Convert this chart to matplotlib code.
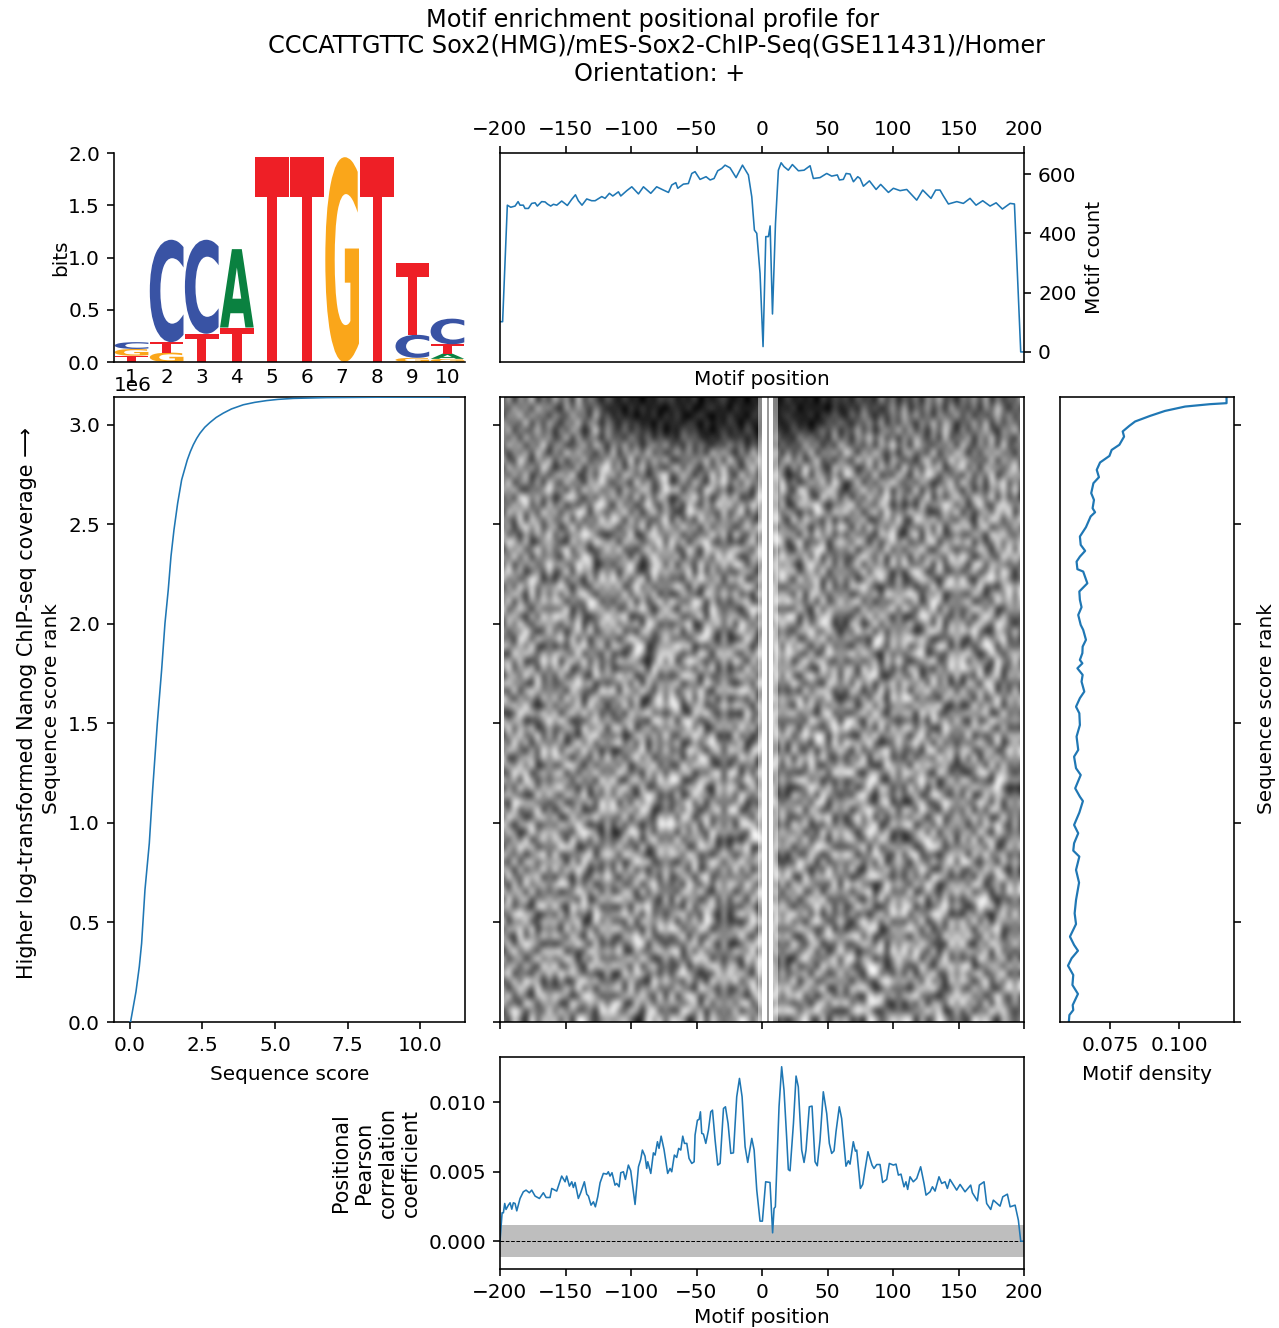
import numpy as np
import matplotlib
matplotlib.use('Agg')
import matplotlib.pyplot as plt
from matplotlib.textpath import TextPath
from matplotlib.patches import PathPatch
from matplotlib.font_manager import FontProperties
from matplotlib.transforms import Affine2D

##logo (bits, stacked from the bottom)
logo_bases = ['TGC', 'GTC', 'TC', 'TA', 'T', 'T', 'G', 'T', 'GCT', 'GATC']
logo_heights = [[0.06, 0.065, 0.065], [0.09, 0.10, 0.98], [0.27, 0.90], [0.33, 0.75],
                [1.96], [1.96], [1.96], [1.96], [0.04, 0.22, 0.69], [0.03, 0.05, 0.09, 0.245]]
base_colors = {'T': '#EE1F26', 'C': '#3953A4', 'G': '#FAA61A', 'A': '#0A8140'}

##motif count
count_pos = [-200, -198, -194.4, -191.8, -188.5, -186.2, -184.7, -182.2, -180.9, -178.3, -175.8, -173.2, -171.5,
             -168.2, -165.6, -163.8, -161.3, -159.2, -156.7, -152.9, -148.6, -145.2, -142.4, -140.2, -137.4,
             -133.8, -130, -127.4, -122.3, -119.8, -116.5, -113.9, -109.6, -107.8, -103.2, -99.4, -94.3, -90.5,
             -84.9, -80.4, -75.3, -71.4, -68.9, -65.8, -64.3, -60, -56.2, -53.6, -51.1, -47.3, -42.7, -39.6,
             -36.6, -33.8, -30.7, -28.2, -24.4, -19.8, -14.9, -10.4, -7.8, -5.8, -4, -1.5, 0.8, 2.9, 4.9, 6.2,
             8, 10.3, 12.5, 14.6, 16.8, 20.1, 23.2, 27.8, 32.1, 36.7, 39.2, 44.3, 49.4, 53.2, 57.5, 59.1, 62.1,
             64.2, 67.2, 69.8, 73.1, 74.9, 77.4, 82, 87.1, 90.6, 96.5, 100.3, 105.4, 110.5, 118.1, 122.7, 129,
             132.6, 135.9, 138.5, 142.3, 148.7, 153.7, 158.8, 163.4, 168.5, 174.1, 178.7, 183.5, 189.4, 192.7,
             197.5, 200]
count_val = [102, 102, 495, 488, 492, 507, 495, 495, 484, 484, 501, 503, 492,
             507, 506, 499, 492, 498, 495, 509, 494, 515, 530, 510, 495,
             516, 510, 510, 524, 518, 535, 526, 540, 526, 544, 557, 533, 557,
             535, 557, 546, 538, 563, 571, 552, 566, 568, 602, 608, 582, 591, 580,
             585, 611, 619, 630, 621, 588, 630, 597, 523, 411, 400, 265, 18, 389, 389, 425,
             128, 434, 613, 638, 625, 613, 632, 611, 613, 628, 585, 588, 602, 593, 597, 580, 582,
             602, 600, 574, 591, 585, 559, 577, 548, 565, 538, 552, 544, 548, 512, 546, 518,
             546, 546, 526, 499, 507, 501, 518, 495, 510, 492, 503, 482, 501, 499,
             0, 0]

##sequence score curve
score_val = [0, 0.023, 0.207, 0.322, 0.402, 0.517, 0.667, 0.782, 0.943, 1.092, 1.207, 1.32, 1.414, 1.517, 1.644,
             1.782, 1.977, 2.08, 2.184, 2.3, 2.414, 2.58, 2.759, 2.97, 3.218, 3.5, 3.908, 4.3, 4.713, 5.1, 5.63,
             6.78, 8.5, 11.0]
score_rank = [0, 0.002, 0.152, 0.278, 0.395, 0.663, 0.898, 1.166, 1.501, 1.769, 2.003, 2.171, 2.339, 2.472, 2.606,
              2.724, 2.824, 2.865, 2.90, 2.932, 2.958, 2.988, 3.012, 3.037, 3.059, 3.08, 3.101, 3.113, 3.122, 3.128,
              3.133, 3.137, 3.139, 3.14]

##motif density
density_val = [117.2, 117.2, 111.2, 102.2, 94.9, 89.5, 84.1, 82, 79.6, 80.1, 78.4, 75.6, 74.8, 71.4, 70.2, 71, 69,
               68.2, 69.2, 68.7, 69.6, 68, 66.3, 64.1, 64.4, 66, 64.1, 62.9, 63.2, 65.3, 66.8, 63.9, 64.1, 64.7,
               63.5, 64.4, 65.3, 66.3, 65.1, 65, 64.1, 65, 63.2, 65.1, 64.7, 65.7, 64.1, 62.7, 63.9,
               64.1, 62.9, 63.5, 62, 62.7, 64.4, 62.4, 64.1, 65.2, 63.9, 62, 63.5, 62, 61.7, 63.9, 62.7, 63.8,
               62.7, 62.2, 62.7, 60.5, 62, 63.4, 61.1, 59.8, 61.7, 61.4, 63.4, 61.5, 61.7, 60.3, 60.1]
density_rank = [3.14, 3.109, 3.104, 3.092, 3.07, 3.045, 3.017, 2.995, 2.967, 2.941, 2.9, 2.874, 2.844, 2.811, 2.774,
                2.737, 2.707, 2.657, 2.623, 2.581, 2.561, 2.54, 2.486, 2.439, 2.397, 2.367, 2.338, 2.313, 2.275,
                2.263, 2.204, 2.163, 2.121, 2.084, 2.045, 1.995, 1.97, 1.92, 1.886, 1.853, 1.819, 1.802, 1.777,
                1.744, 1.71, 1.66, 1.627, 1.584, 1.551, 1.492, 1.434, 1.367, 1.333, 1.275, 1.241, 1.174, 1.132,
                1.11, 1.052, 0.99, 0.948, 0.898, 0.861, 0.831, 0.764, 0.70, 0.613, 0.546, 0.492, 0.429, 0.387,
                0.358, 0.32, 0.283, 0.236, 0.186, 0.141, 0.085, 0.06, 0.035, 0]

##positional correlation (x 1e-3)
corr_pos = [-200, -198.4, -197.4, -196.4, -195.4, -193.6, -192.3, -191, -189.8, -188.5, -187.2, -184.7, -182.2, -180.1,
            -177.6, -175.8, -173.2, -169.9, -166.9, -164.8, -161.8, -160.5, -156.7, -152.9, -150.3, -149.1, -147,
            -145.2, -144, -142.7, -140.2, -138.4, -135.6, -133.8, -132.5, -130.5, -128.7, -127.2, -125.4, -123.6,
            -121.1, -118.5, -117.3, -116, -114.5, -112.2, -110.9, -109.1, -107.8, -105.8, -104.3, -102, -100.2,
            -96.9, -94.3, -92.6, -91.3, -89.3, -88, -87.2, -84.9, -82.9, -81.6, -79.8, -78.6, -77, -74.8, -72,
            -70.2, -68.9, -66.9, -65.1, -63.6, -62, -60.5, -59.2, -57.4, -55.7, -53.6, -51.8, -51.1, -49.3, -48,
            -47, -46, -44.7, -42.9, -40.9, -39.1, -37.8, -35.8, -33.8, -32, -29.4, -27.9, -25.9, -23.8, -21.8,
            -19.3, -17.2, -15.2, -12.9, -10.9, -7.8, -6, -4, -1.5, 0.3, 2.8, 6.1, 8.1, 9.2, 10.2, 13, 15, 16.8,
            18.8, 20.1, 21.4, 24, 26, 27.7, 30.3, 32.1, 33.6, 36.1, 38.2, 40.5, 42.2, 44.3, 46.8, 49.4, 51.4,
            53.2, 55, 56.5, 59, 60.8, 64.1, 65.9, 67.2, 69.7, 71.3, 72.3, 75.1, 76.9, 78.6, 80.9, 84, 85.5, 87.6,
            90.1, 92.1, 95.2, 97.2, 100.3, 102.3, 104.1, 106.1, 108.4, 109.9, 111.2, 113, 115.5, 118.1, 121.1,
            123.7, 125.2, 128.3, 130.1, 132.1, 135.1, 137.2, 139.7, 141.5, 143.5, 148.6, 151.2, 155, 159.3, 160.6,
            164.4, 165.9, 169.5, 171.5, 174.6, 176.6, 181.7, 183.8, 187.3, 189.4, 193.2, 195.7, 197.5, 200]
corr_val = [0, 2.04, 2.04, 2.71, 2.28, 2.59, 2.76, 2.30, 2.76, 2.71, 2.18, 3.07, 3.55, 3.67, 3.48, 3.67, 3.24, 3.07,
            3.48, 3.14, 3.14, 3.79, 3.60, 4.68, 4.27, 4.68, 3.96, 4.27, 3.86, 4.22, 3.07, 3.48, 4.27, 3.38, 3.24,
            2.59, 2.83, 2.47, 3.19, 4.20, 4.87, 4.82, 4.99, 4.68, 4.92, 4.03, 4.15, 3.91, 4.92, 4.99, 4.44, 5.47,
            5.06, 2.64, 5.35, 5.87, 6.55, 6.11, 5.23, 5.71, 4.87, 6.35, 6.19, 7.15, 6.67, 7.55, 6.59, 4.87, 5.23,
            4.99, 6.19, 6.02, 6.67, 6.55, 7.55, 7.03, 7.03, 5.95, 5.59, 5.71, 7.63, 8.70, 8.75, 9.30, 7.75, 7.70,
            7.03, 7.98, 9.30, 9.42, 7.27, 5.47, 5.59, 9.54, 9.66, 8.46, 6.31, 6.35, 10.38, 11.70, 10.38, 6.79, 5.66,
            7.39, 6.55, 3.67, 1.44, 1.44, 4.27, 4.22, 0.60, 2.35, 2.47, 9.66, 12.54, 10.86, 7.5, 5.15, 5.06, 8.46,
            11.87, 11.1, 6.55, 5.66, 6.55, 9.66, 9.71, 5.71, 5.42, 7.27, 10.74, 9.18, 7.03, 6.31, 6.5, 7.87, 9.66,
            8.82, 5.39, 5.78, 5.54, 7.15, 6.47, 6.55, 3.79, 4.08, 5.11, 6.43, 5.47, 5.23, 5.51, 5.51, 4.22, 4.44,
            5.59, 5.47, 5.54, 4.75, 4.82, 3.91, 4.27, 3.72, 4.63, 4.27, 4.51, 5.35, 4.15, 3.31, 3.55, 3.91, 3.6,
            4.63, 4.15, 4.27, 3.79, 4.44, 3.67, 4.08, 3.55, 4.03, 3.48, 2.9, 4.03, 4.27, 2.71, 2.28, 2.95, 2.52,
            3.19, 3.38, 2.47, 2.59, 1.51, 0, 0]
corr_band = 1.15

##heatmap gray levels (0 dark, 9 light): hand estimate of tone and grain, the single blobs are not exact
heat_rows = [
    '2716381527 3618253142 1312021323 1213021231 1202132113 1212031323 1423162514 2516372415 3627152436',
    '5273618462 1736425312 2031312102 2130123120 3121302121 3021210312 3152413627 1436251734 2516384152',
    '1648273516 4273518241 3120213031 3102310213 1203213123 1213032421 5263142537 3725164372 6152473625',
    '7352916274 1638264153 1423120312 2132031213 2031203212 3120214253 1436271526 4163827514 3728162543',
    '3816247351 6274139263 2514231302 1423120231 3142031321 4231352614 3725146382 7251638416 2547316482',
    '6271835462 3817254163 4163251423 1534213142 2313142523 1635241725 1648372516 3742618253 7163825417',
    '2847163925 6134728516 3725146372 4162531426 3514263152 4273615184 3526174936 1854263718 4263719254',
    '5163728416 2947351628 1647382514 7362518473 1628354716 2538164729 6173842516 7342916385 1627483516',
    '7329516482 7163825374 5291637482 1536482719 4273916258 3714825163 2948361752 4168253947 6352817463',
    '1846372951 3528164793 7164825316 8274163582 6158372461 7294631857 5137284619 3627581469 2718463592',
    '6273814526 7491362857 2863514792 4751629384 1936275841 2481753629 7362914285 1849726351 8263914756',
    '3915627184 2836175942 6419372581 3628417593 7284516392 6137482951 3816275943 6274135829 4371859263',
    '7482153694 6172948356 1753862497 8164297351 4651738294 1972548631 5493728164 2916384751 7152648392',
    '2619847351 3985162747 4629173851 2759361484 8132974652 6483195727 1628459373 7349162585 3864917251',
    '5374926183 7142638951 8361594272 6184273958 3749516281 2867931456 9274386151 4183659727 1593278646',
    '1857362947 2659817436 4927158364 1397654282 5916284737 4152973868 3716829454 8562137491 6247385916',
    '6429185373 5817263949 7183642591 8251947364 7263185941 9386427151 6481257393 1975836427 4183972658',
    '3716948257 1492736585 2654918376 3947182655 1584973264 2751638497 1829463752 5347291686 8269145373',
    '8251637492 7356984213 6391278545 7162539481 9427316856 6183947252 7354186921 6918472353 2751968436',
    '4973812665 2184639757 1857346929 4816793252 3168254971 5924371686 3961725848 2437916585 9162483757',
    '1648259373 6927513484 9241683757 2395187646 8752941363 1736892454 8147539262 7593168424 3586174929',
    '7392816454 1853972646 3718259464 8164372959 4137682595 7482916353 2695381747 1826743959 6137429585',
    '2816473595 7349681252 6594137828 1752936484 9826315747 3169548272 5817462939 4358192676 1892764353',
    '5947136282 3918562747 1683249575 6491827353 2574193686 8257391646 3492876151 7961483252 5724839616',
    '8362597141 6274183959 4726918353 3275964818 6813742595 1946825373 6138594272 2687315949 3168957424',
    '1729483656 9516328474 8159372646 9618247353 3697158424 7364819252 8795214363 5143928767 7492316858',
    '6485192737 2837951646 3927648151 2753196484 8241936575 2918753646 1364829757 9726481353 2851674939',
    '3917264858 7163498252 6481725939 6349817252 5782314969 6537192484 7926153484 3815972646 8136295747',
    '9258617343 4915286737 2376951484 1867429535 3169857242 3841927656 5183746929 6274918353 4973812656',
    '4673182959 8627314595 7912364858 7235918646 7428163959 9162578343 2749385161 1598374262 7159628343',
    '1839427565 2749163858 3658197242 4691275838 1963742585 5283697141 8613927454 8346291757 2685397414',
    '7264951383 6158392474 9241873565 8174396252 6847219353 2769438515 3958172646 4127963858 6941275383',
    '3519728646 9382716545 1697352484 3526984171 2395186474 8137592646 6241893757 9685124373 1738469252',
    '8647392151 4276935818 7428913656 9781326454 7851643929 4961728353 1753962848 2473598161 5269817434',
    '2195863747 7539164282 3159624787 5243971868 3274961858 7328149656 9486217353 6891342757 8413952676',
    '6738124959 1684927353 8675214939 1698425373 9618352747 1594873262 3625718494 1357924868 2746195383',
    '4926581737 5913648272 2436819575 7352849161 4293718565 6842195737 7194836252 8624173959 7581392464',
    '1573948262 8247319565 9581367242 3987162454 6847251939 3179564828 5368921474 3915746282 4293681757',
    '7846219353 3769581424 4729183656 8145296373 1362987454 9625318747 2947165838 6482937151 8619725343',
    '3291786454 6185423979 1863952747 2674931858 7985316242 4193786252 8615392747 1759364828 3574916282',
    '9517362848 2947168353 7548216939 5392847161 3428169575 6827549313 4372861959 9263418575 6182493757',
    '5684931272 7358294616 3927146858 9146723585 8751923464 1958263747 7159283464 3847692151 2937581646',
    '2139675848 1684937252 6185793424 7318694252 2194386757 8364179252 2683941757 7195832646 7468129353',
    '8476123595 9513268474 2764319858 1895237464 6572819343 3529746818 9418576323 4261957383 1823974565',
    '4927581363 3762945818 8391572646 6483912757 3948165727 7184325969 5736192848 8375129646 5769418232',
    '1658349272 8241679353 5128647393 2759648131 9261473858 2695981743 2184936575 1692847353 9142583767',
    '7293816545 6159382747 9372816454 8126379545 4813695272 6451872939 7659312484 6947183525 3685291474',
    '3864172959 2873946151 1645927383 4397516828 7528934161 9327164585 1825479363 3518926747 8236714959',
    '9125763848 7416528393 7269381545 7163982454 2967153848 1768493252 6391857242 7264395818 2917483656',
    '5748391262 3985172646 3814759262 2948673151 6345198727 5829316474 4873129656 1958647323 6471928353',
    '2396815747 8162749353 9635184727 5681437929 8172964353 3146582979 9216754838 8473196252 1589367424',
    '8471962535 4728361959 2178463959 9214785636 3596281474 7983614252 3758921646 2695714838 7243198565',
    '1629483757 9351627484 6942813575 3476921858 7148369252 1259748363 6149387252 9381625474 4865793121',
    '6753219484 2864915373 8351697242 8139562747 2963758141 8637195424 2894165373 5714983262 9128476353',
    '4198673525 7136482959 1729485363 4692817353 5814279636 4372981656 8563279141 1683259747 3596281747',
    '7382549161 5947123868 6483971252 7385146929 9136582474 6918523747 1479635828 7296418353 8162973454',
    '2965137848 1283769454 3917642858 2971683454 4752916383 2364879151 6938172545 3851692474 5847129363',
    '9416782353 8659413272 7264153989 6548192737 1897346252 9581427363 2746913858 9147283656 1638594272',
    '3851294767 3427985161 1598372646 1837429565 6429813575 4716293858 5169748232 4682917535 7294186353',
    '6273915848 6194728353 4827169353 9265738141 3158972646 8392561747 8427396151 2579463818 3918742565',
    '1749682353 9871253464 8351924767 4813976252 8691234757 1645987232 3691825747 6138972454 6572913848',
    '8536147929 2345691787 2976413858 7396241585 2473869151 7238514969 7154963282 8924315767 1849367252',
    '4291873565 7182946353 6149782353 1648359727 5946718323 3967182454 4836291575 1753846929 9325618474',
    '7618254939 3859614272 9382516474 8529146373 9281536747 6841529373 9217548363 5496127383 2748593161',
    '2943768151 6417238595 1736945282 3761892454 4627813959 2193768545 1368974252 7361985242 6184279353',
    '5182936747 9826371454 7248169353 6195273848 7395246181 8576342919 6843129575 2849613757 3971562848',
    '8467192535 1359648272 3861927545 2874931656 1563984727 4923817656 2579168343 9137426585 8246173959',
    '1936825474 7642913858 9573264181 9356148272 8619472353 7168592434 8316492757 4691738252 5789314262',
    '6725318949 3196857242 2618793454 4192768353 3274169585 1635948272 3967215848 8152369474 1396827545',
    '3489671252 8273519646 6947183525 7835294161 6958312747 9482716353 7241583969 2745986131 7462158393',
    '9154823767 4568129373 3291865747 1648397252 2149673858 3517962484 1695738242 6391472858 3928175646',
    '2768391545 1937462858 8435172969 8263971454 7586129343 6874239151 4368912757 9628153747 6184792353',
    '7319264858 6284195373 1769483252 5917328646 4932761858 2159368747 8927135464 1743629585 8529371646',
    '4826975131 3759618242 6358917424 3468295171 1376948252 9526814373 2586391747 7486231959 2173965484',
    '1593642878 8142396575 9217346858 9172836454 8649152737 5368271494 6134782959 3952817464 7648193525',
    '8247159363 5961728343 4683951272 6349781525 3295874161 1794536828 9376142585 6817349252 4296358171',
    '3672841959 2374196858 7529168343 2815469737 7163948252 8236195747 3259861474 2394176858 9135762848',
    '6915327484 9685342171 1948735262 7964132858 5841926373 4671952383 7418935262 8165923747 3782469151',
    '2483976151 6127958343 6374219585 4283619575 9268317454 9158237646 1643289757 4729361858 6159273848',
    '7158629343 3849261757 8192657343 8531974262 2739541868 3584691272 8795126343 1586942373 2847316959',
    '4926317858 7513986242 3765842919 1697248353 6415928737 7926148353 5219684737 7934215686 8361594272',
    '8341972656 1296475838 9218473656 6358192747 3892671454 2451783969 3648972151 5281763949 4729185363',
    '1697254383 8462351979 4386179252 2984716353 8146235979 8367945121 7986125343 3649581272 7153968424',
    '5284193767 3719842565 6741295838 7613928545 5973816242 4693281757 2419735868 8172496353 2968417535',
]
heat_white_spans = [[-200, -197], [-0.2, 3.6], [5.4, 8.7], [197, 200]]
heat_mid_span = [3.6, 5.4]
heat_pale_spans = [[-3, -0.2], [8.7, 12]]

title_lines = ['Motif enrichment positional profile for',
               'CCCATTGTTC Sox2(HMG)/mES-Sox2-ChIP-Seq(GSE11431)/Homer',
               'Orientation: +']
pos_ticks = [-200, -150, -100, -50, 0, 50, 100, 150, 200]

W, H = 1279, 1328
plt.rcParams['font.size'] = 10
fig = plt.figure(figsize=(W / 144, H / 144), dpi=144)


def px_axes(x0, y0, x1, y1):
    return fig.add_axes([x0 / W, 1 - y1 / H, (x1 - x0) / W, (y1 - y0) / H])


def draw_base(ax, base, x, y, w, h):
    tp = TextPath((0, 0), base, size=1, prop=FontProperties(family='DejaVu Sans', weight='bold'))
    bb = tp.get_extents()
    tr = Affine2D().translate(-bb.x0, -bb.y0).scale(w / bb.width, h / bb.height).translate(x, y)
    ax.add_patch(PathPatch(tp, transform=tr + ax.transData, fc=base_colors[base], lw=0))


#logo
ax_logo = px_axes(114, 153, 465, 362)
for i, (bases, heights) in enumerate(zip(logo_bases, logo_heights)):
    bottom = 0
    for b, h in zip(bases, heights):
        draw_base(ax_logo, b, i + 1 - 0.48, bottom, 0.96, h)
        bottom += h
ax_logo.set_xlim(0.5, 10.5)
ax_logo.set_ylim(0, 2)
ax_logo.set_xticks(range(1, 11))
ax_logo.tick_params(axis='x', length=0, pad=3)
ax_logo.set_ylabel('bits', labelpad=-1)
ax_logo.spines[['top', 'right']].set_visible(False)

#motif count
ax_count = px_axes(500, 153, 1024, 362)
ax_count.plot(count_pos, count_val, lw=0.8)
ax_count.set_xlim(-200, 200)
ax_count.set_ylim(-34, 671)
ax_count.xaxis.tick_top()
ax_count.set_xticks(pos_ticks)
ax_count.yaxis.tick_right()
ax_count.yaxis.set_label_position('right')
ax_count.set_yticks([0, 200, 400, 600])
ax_count.set_ylabel('Motif count')
ax_count.set_xlabel('Motif position', labelpad=4)

#sequence score
ax_score = px_axes(114, 397, 465, 1022)
ax_score.plot(score_val, np.array(score_rank) * 1e6, lw=0.8, zorder=3)
ax_score.set_xlim(-0.55, 11.55)
ax_score.set_ylim(0, 3.14e6)
ax_score.set_xlabel('Sequence score', labelpad=5)

#heatmap
heat = np.array([[int(c) for c in r.replace(' ', '')] for r in heat_rows], dtype=float)
ax_heat = px_axes(500, 397, 1024, 1022)
ax_heat.imshow(heat, cmap='gray', vmin=0.5, vmax=8.5, aspect='auto', interpolation='bicubic',
               extent=(-200, 200, 0, 3.14e6))
for a, b in heat_white_spans:
    ax_heat.axvspan(a, b, color='white', lw=0)
ax_heat.axvspan(heat_mid_span[0], heat_mid_span[1], color='#999999', lw=0)
for a, b in heat_pale_spans:
    ax_heat.axvspan(a, b, color='white', alpha=0.45, lw=0)
ax_heat.set_xticks(pos_ticks)
ax_heat.set_yticks(np.arange(0, 3.5e6, 0.5e6))
ax_heat.tick_params(labelbottom=False, labelleft=False)

#motif density
ax_den = px_axes(1060, 397, 1234, 1022)
ax_den.plot(np.array(density_val) / 1000, np.array(density_rank) * 1e6, lw=1.1)
ax_den.set_xlim(0.0569, 0.1199)
ax_den.set_ylim(0, 3.14e6)
ax_den.set_xticks([0.075, 0.1])
ax_den.set_xticklabels(['0.075', '0.100'])
ax_den.set_yticks(np.arange(0, 3.5e6, 0.5e6))
ax_den.yaxis.tick_right()
ax_den.tick_params(labelright=False)
ax_den.set_xlabel('Motif density', labelpad=5)

#correlation
ax_corr = px_axes(500, 1057, 1024, 1269)
ax_corr.axhspan(-corr_band / 1000, corr_band / 1000, color='#bebebe', lw=0)
ax_corr.axhline(0, color='k', ls='--', lw=0.5)
ax_corr.plot(corr_pos, np.array(corr_val) / 1000, lw=0.8)
ax_corr.set_xlim(-200, 200)
ax_corr.set_ylim(-0.002, 0.01324)
ax_corr.set_xticks(pos_ticks)
ax_corr.set_yticks([0, 0.005, 0.01])
ax_corr.set_yticklabels(['0.000', '0.005', '0.010'])
ax_corr.set_xlabel('Motif position', labelpad=3)

#labels outside the axes
fig.text(27 / W, 1 - 703 / H, 'Higher log-transformed Nanog ChIP-seq coverage \u27f6', rotation=90,
         ha='center', va='center', fontsize=10.4)
fig.text(52 / W, 1 - 709 / H, 'Sequence score rank', rotation=90, ha='center', va='center')
fig.text(1266 / W, 1 - 709 / H, 'Sequence score rank', rotation=90, ha='center', va='center')
fig.text(376 / W, 1 - 1163 / H, 'Positional\nPearson\ncorrelation\ncoefficient', rotation=90,
         ha='center', va='center', multialignment='center', fontsize=10.3)
fig.text(653 / W, 1 - 20 / H, title_lines[0], ha='center', va='center', fontsize=12)
fig.text(656 / W, 1 - 46 / H, title_lines[1], ha='center', va='center', fontsize=12)
fig.text(660 / W, 1 - 74 / H, title_lines[2], ha='center', va='center', fontsize=12)

fig.savefig('out.png', dpi=144)
